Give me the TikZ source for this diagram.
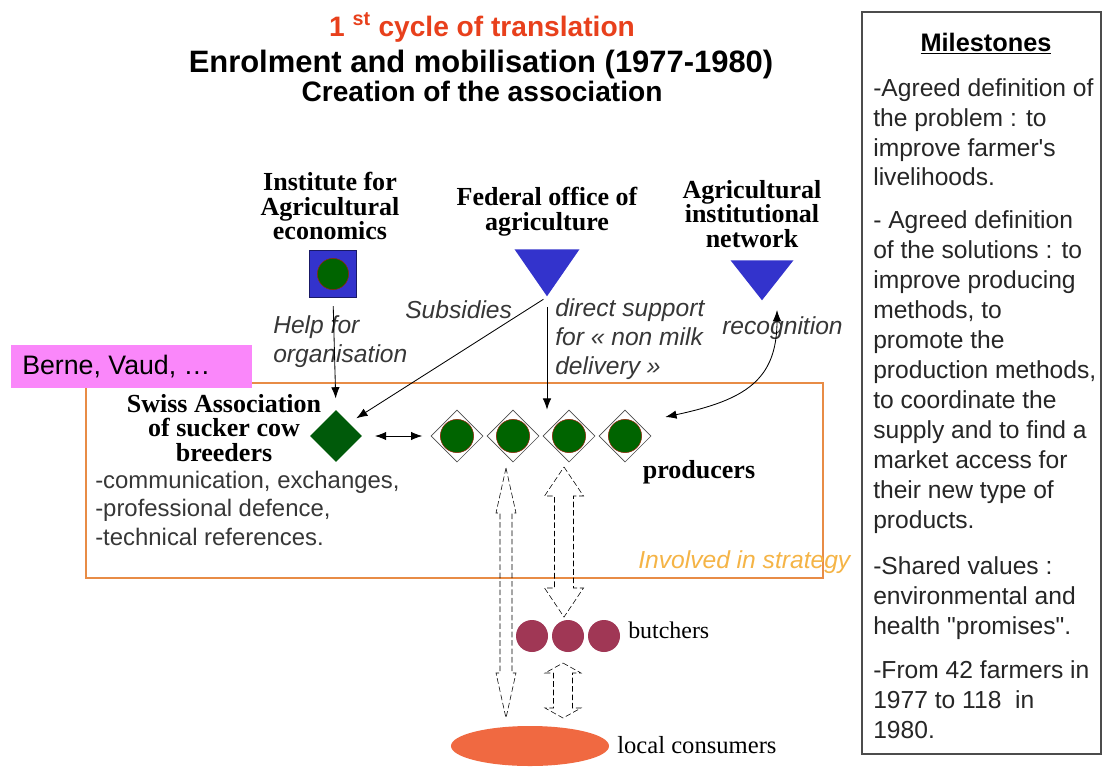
\documentclass[tikz,border=0pt]{standalone}
\usepackage{fontspec}
\setmainfont{Liberation Serif}
\setsansfont{Liberation Sans}[Ligatures=TeXOff]
\usetikzlibrary{arrows.meta,calc,shapes.geometric}

\definecolor{titlered}{RGB}{232,64,28}
\definecolor{iconblue}{RGB}{51,51,204}
\definecolor{leafgreen}{RGB}{0,100,0}
\definecolor{darkleaf}{RGB}{0,90,10}
\definecolor{rimbrown}{RGB}{140,40,10}
\definecolor{boxorange}{RGB}{232,140,70}
\definecolor{stratorange}{RGB}{245,180,70}
\definecolor{cantonpink}{RGB}{250,135,250}
\definecolor{notegray}{RGB}{55,55,55}
\definecolor{butcherred}{RGB}{160,55,85}
\definecolor{consumerred}{RGB}{240,105,65}

\tikzset{
  actor/.style={font=\bfseries\fontsize{18.5}{17.5}\selectfont, align=center, inner sep=0pt},
  note/.style={font=\sffamily\itshape\fontsize{17.5}{20.8}\selectfont, text=notegray, align=left, anchor=west, inner sep=0pt},
  plain/.style={font=\sffamily\fontsize{17}{20.3}\selectfont, text=notegray, align=left, anchor=west, inner sep=0pt},
  farm/.style={diamond, draw=black!70, fill=white, minimum size=1.3cm, inner sep=0pt},
  herd/.style={circle, fill=leafgreen, draw=rimbrown, minimum size=0.83cm, inner sep=0pt},
  shop/.style={circle, fill=butcherred, minimum size=0.8cm, inner sep=0pt},
  office/.style={isosceles triangle, isosceles triangle stretches, rotate=-90, fill=iconblue, inner sep=0pt, anchor=apex},
  link/.style={semithick, >={Latex[length=8pt,width=6pt]}},
}

% hollow dashed double arrow: x, top, bottom, shaft half width, head half width, head length
\newcommand{\hollowlink}[6]{%
  \draw[dash pattern=on 4pt off 2pt] (#1,#2) -- (#1+#5,#2+#6) -- (#1+#4,#2+#6) -- (#1+#4,#3-#6)
    -- (#1+#5,#3-#6) -- (#1,#3) -- (#1-#5,#3-#6) -- (#1-#4,#3-#6) -- (#1-#4,#2+#6)
    -- (#1-#5,#2+#6) -- cycle;}

\begin{document}
\begin{tikzpicture}[x=0.025cm, y=-0.025cm]

    \fill[white] (0,0) rectangle (1104,769);
    \useasboundingbox (0,0) rectangle (1104,769);

    \node[font=\sffamily\bfseries\fontsize{20}{24}\selectfont, text=titlered, anchor=base] (cycle) at (482,36) {1 \textsuperscript{st} cycle of translation};
    \node[font=\sffamily\bfseries\fontsize{22}{26}\selectfont, anchor=base] (phase) at (481,72) {Enrolment and mobilisation (1977-1980)};
    \node[font=\sffamily\bfseries\fontsize{20}{24}\selectfont, anchor=base] (step) at (482,101) {Creation of the association};

    \draw[boxorange, line width=0.9pt] (86,383) rectangle (823,578);
    \fill[cantonpink] (11,345) rectangle (252,388);
    \node[plain, text=black, font=\sffamily\fontsize{19}{22}\selectfont] (canton) at (22,367) {Berne, Vaud, \ldots};
    \node[note, text=stratorange] (strat) at (638,562) {Involved in strategy};

    \node[fill=iconblue, draw=iconblue!50!black, minimum size=1.175cm, inner sep=0pt] (inst) at (333,274) {};
    \node[herd, minimum size=0.78cm] (instherd) at (inst) {};
    \node[actor] (instlabel) at (330,206) {Institute for\\Agricultural\\economics};

    \node[office, minimum width=1.625cm, minimum height=1.175cm] (fed) at (547,297) {};
    \node[actor] (fedlabel) at (547,212) {Federal office of\\agriculture};

    \node[office, minimum width=1.575cm, minimum height=1.0cm] (net) at (762,301) {};
    \node[actor] (netlabel) at (752,214) {Agricultural\\institutional\\network};

    \node[diamond, fill=darkleaf, minimum size=1.3cm, inner sep=0pt] (assoc) at (336,436) {};
    \node[actor] (assoclabel) at (224,428) {Swiss Association\\of sucker cow\\breeders};
    \node[plain] (tasks) at (95,508) {-communication, exchanges,\\-professional defence,\\-technical references.};

    \foreach \x [count=\i] in {457,513,569,625} {
        \node[farm] (p\i) at (\x,436) {};
        \node[herd] (h\i) at (p\i) {};
    }
    \node[actor] (prodlabel) at (699,472) {producers};

    \foreach \x [count=\i] in {532,568,604}
        \node[shop] (b\i) at (\x,636) {};
    \node[font=\fontsize{17}{20}\selectfont, anchor=west, inner sep=0pt] (shoplabel) at (628,630) {butchers};

    \node[ellipse, fill=consumerred, minimum width=3.95cm, minimum height=1cm, inner sep=0pt] (cons) at (530,746) {};
    \node[font=\fontsize{17.5}{20}\selectfont, anchor=west, inner sep=0pt] (conslabel) at (617,745) {local consumers};

    \node[note] (help) at (273,342) {Help for\\organisation};
    \node[note] (subs) at (405,310) {Subsidies};
    \node[note] (direct) at (555,339) {direct support\\for « non milk\\delivery »};
    \node[note] (recog) at (722,328) {recognition};

    \draw[link, ->, shorten <=6pt, shorten >=8pt] (inst.south) -- (assoc.north);
    \draw[link, ->, shorten <=3pt, shorten >=6pt] (fed.apex) -- (assoc.north east);
    \draw[link, ->, shorten <=7pt] (fed.apex) -- (fed.apex |- p2.north);
    \draw[link, <->, shorten <=9pt, shorten >=6pt] (assoc.east) -- (p1.west);
    \draw[link, <->] ($(p4.east)+(14,-19)$) .. controls +(80,-17) and +(0,70) .. ($(net.apex)+(15,9)$);

    \hollowlink{506}{468}{718}{6}{10}{45}
    \hollowlink{564}{467}{617}{9.5}{19.5}{29}
    \hollowlink{563}{663}{718}{9.5}{18}{10}

    % milestones column
    \draw[black!70, line width=1pt] (862,12) rectangle (1101,754);
    \node[font=\sffamily\bfseries\fontsize{18}{20}\selectfont, anchor=base] (mtitle) at (986,51) {\underline{Milestones}};
    \node[font=\sffamily\fontsize{17.5}{21.3}\selectfont, text=black!85, align=left, anchor=north west, inner sep=0pt] (goals) at (873,78)
        {-Agreed definition of\\the problem : to\\improve farmer's\\livelihoods.\\[9pt]- Agreed definition\\of the solutions : to\\improve producing\\methods, to\\promote the\\production methods,\\to coordinate the\\supply and to find a\\market access for\\their new type of\\products.\\[12pt]-Shared values :\\environmental and\\health "promises".\\[10pt]-From 42 farmers in\\1977 to 118~ in\\1980.};

\end{tikzpicture}
\end{document}
